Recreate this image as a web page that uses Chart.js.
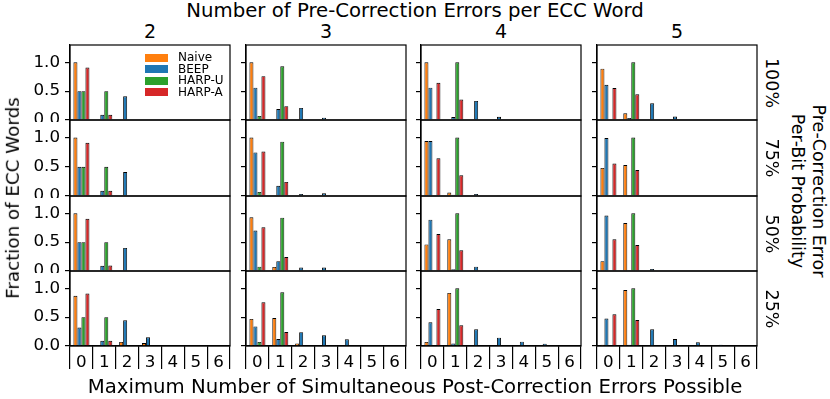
<!DOCTYPE html>
<html>
<head>
<meta charset="utf-8">
<script src="https://cdn.jsdelivr.net/npm/chart.js@4.4.1/dist/chart.umd.min.js"></script>
<style>
  html, body { margin: 0; padding: 0; background: #fff; }
  #fig { position: relative; width: 830px; height: 399px; overflow: hidden; background: #fff;
         font-family: 'DejaVu Sans', sans-serif; color: #000; }
  #fig canvas { position: absolute; }
  .txt { position: absolute; font-size: 18px; line-height: 1; white-space: nowrap; }
  .ctr { transform: translate(-50%, -50%); }
  .rot90 { transform: translate(-50%, -50%) rotate(90deg); text-align: center; }
  .rotm90 { transform: translate(-50%, -50%) rotate(-90deg); }
  #legend { position: absolute; left: 145px; top: 52px; font-size: 12px; line-height: 11.5px; }
  #legend .item { display: flex; align-items: center; height: 11.5px; }
  #legend .sw { width: 23px; height: 8px; margin-right: 10px; }
</style>
</head>
<body>
<div id="fig"></div>
<script>
// ---- data ----
const categories = ['0', '1', '2', '3', '4', '5', '6'];            // max simultaneous post-correction errors
const errorCounts = ['2', '3', '4', '5'];                           // columns: pre-correction errors per ECC word
const probabilities = ['100%', '75%', '50%', '25%'];                // rows: per-bit probability
const seriesNames = ['Naive', 'BEEP', 'HARP-U', 'HARP-A'];
const seriesColors = ['#ff7f0e', '#1f77b4', '#2ca02c', '#d62728'];
const yTickValues = [0, 0.5, 1.0];

// values[row][col] = fraction per category
const naive = [
  [[1.00,0,0,0,0,0,0], [1.00,0,0,0,0,0,0], [1.00,0,0,0,0,0,0], [0.89,0.115,0,0,0,0,0]],
  [[1.00,0,0,0,0,0,0], [1.00,0,0,0,0,0,0], [0.94,0.06,0,0,0,0,0], [0.48,0.53,0,0,0,0,0]],
  [[1.00,0,0,0,0,0,0], [0.93,0.07,0,0,0,0,0], [0.46,0.55,0,0,0,0,0], [0.17,0.83,0,0,0,0,0]],
  [[0.87,0.01,0.07,0.05,0,0,0], [0.47,0.485,0.045,0,0,0,0], [0.07,0.92,0.005,0,0,0,0], [0.02,0.97,0,0,0,0,0]]
];
const beep = [
  [[0.50,0.09,0.41,0,0,0,0], [0.56,0.19,0.21,0.04,0,0,0], [0.56,0.05,0.33,0.055,0,0,0], [0.61,0.035,0.29,0.06,0,0,0]],
  [[0.50,0.09,0.41,0,0,0,0], [0.745,0.175,0.035,0.045,0,0,0], [0.94,0.02,0.035,0.005,0,0,0], [0.99,0.003,0.005,0,0,0,0]],
  [[0.50,0.09,0.40,0.01,0,0,0], [0.70,0.17,0.06,0.06,0.01,0,0], [0.89,0.03,0.075,0.005,0,0,0], [0.96,0.003,0.035,0,0,0,0]],
  [[0.32,0.09,0.445,0.15,0,0,0], [0.34,0.12,0.24,0.185,0.115,0,0], [0.41,0.045,0.29,0.145,0.075,0.04,0], [0.475,0.02,0.29,0.12,0.064,0.02,0.005]]
];
const harpU = [
  [[0.50,0.50,0,0,0,0,0], [0.07,0.93,0,0,0,0,0], [0,1.00,0,0,0,0,0], [0,1.00,0,0,0,0,0]],
  [[0.50,0.50,0,0,0,0,0], [0.07,0.93,0,0,0,0,0], [0,1.00,0,0,0,0,0], [0,1.00,0,0,0,0,0]],
  [[0.50,0.50,0,0,0,0,0], [0.075,0.925,0,0,0,0,0], [0,1.00,0,0,0,0,0], [0,1.00,0,0,0,0,0]],
  [[0.50,0.50,0,0,0,0,0], [0.07,0.93,0,0,0,0,0], [0,1.00,0,0,0,0,0], [0,1.00,0,0,0,0,0]]
];
const harpA = [
  [[0.91,0.09,0,0,0,0,0], [0.76,0.24,0,0,0,0,0], [0.645,0.355,0,0,0,0,0], [0.555,0.445,0,0,0,0,0]],
  [[0.91,0.09,0,0,0,0,0], [0.76,0.24,0,0,0,0,0], [0.645,0.355,0,0,0,0,0], [0.555,0.445,0,0,0,0,0]],
  [[0.905,0.095,0,0,0,0,0], [0.757,0.243,0,0,0,0,0], [0.64,0.36,0,0,0,0,0], [0.55,0.45,0,0,0,0,0]],
  [[0.91,0.09,0,0,0,0,0], [0.757,0.243,0,0,0,0,0], [0.64,0.36,0,0,0,0,0], [0.55,0.45,0,0,0,0,0]]
];
const seriesValues = [naive, beep, harpU, harpA];

// ---- layout ----
const colLeft = [70, 246, 421, 597];
const plotW = 160;
const rowTop = [45, 120, 196, 271, 346];
const FONT = "'DejaVu Sans', sans-serif";
const TICK_FONT = 16.7;
Chart.defaults.font.family = FONT;
Chart.defaults.color = '#000';

const fig = document.getElementById('fig');

const framePlugin = {
  id: 'frame',
  afterDraw(chart) {
    const a = chart.chartArea, ctx = chart.ctx;
    ctx.save();
    ctx.strokeStyle = '#000';
    ctx.lineWidth = 1.2;
    ctx.strokeRect(a.left, a.top, a.right - a.left, a.bottom - a.top);
    ctx.restore();
  }
};

function noPad(scale) {
  scale.paddingTop = 0; scale.paddingBottom = 0;
  scale.paddingLeft = 0; scale.paddingRight = 0;
}

for (let r = 0; r < 4; r++) {
  for (let c = 0; c < 4; c++) {
    const L = c === 0 ? 48 : 10;
    const T = 2, R = 2;
    const plotH = rowTop[r + 1] - rowTop[r];
    const XH = 42;
    const B = r === 3 ? XH : 2;
    const cv = document.createElement('canvas');
    cv.width = L + plotW + R;
    cv.height = T + plotH + B;
    cv.style.left = (colLeft[c] - L) + 'px';
    cv.style.top = (rowTop[r] - T) + 'px';
    cv.style.width = cv.width + 'px';
    cv.style.height = cv.height + 'px';
    fig.appendChild(cv);

    const datasets = seriesNames.map((name, s) => ({
      label: name,
      data: seriesValues[s][r][c],
      backgroundColor: seriesColors[s],
      borderColor: '#000',
      borderWidth: 0.9,
      categoryPercentage: 0.7,
      barPercentage: 1.0
    }));

    new Chart(cv, {
      type: 'bar',
      data: { labels: categories, datasets },
      plugins: [framePlugin],
      options: {
        responsive: false,
        animation: false,
        devicePixelRatio: 1,
        layout: { padding: { left: 0, right: R, top: T, bottom: r === 3 ? 0 : B } },
        plugins: { legend: { display: false }, tooltip: { enabled: false } },
        scales: {
          x: {
            type: 'category',
            display: r === 3,
            offset: true,
            grid: { offset: true, drawOnChartArea: false, drawTicks: true, tickLength: 23, color: '#000', lineWidth: 1.2 },
            border: { display: true, color: '#000', width: 1.2 },
            ticks: { padding: -16.5, font: { size: TICK_FONT, family: FONT }, color: '#000', maxRotation: 0, minRotation: 0, autoSkip: false },
            afterFit: (scale) => { noPad(scale); scale.height = (r === 3) ? XH : 0; }
          },
          y: {
            type: 'linear',
            min: 0,
            max: 1.3,
            stacked: false,
            grid: { drawOnChartArea: false, drawTicks: true, tickLength: 5, color: '#000', lineWidth: 1.2 },
            border: { display: true, color: '#000', width: 1.2 },
            ticks: {
              display: c === 0,
              padding: 5,
              font: { size: TICK_FONT, family: FONT },
              color: '#000',
              callback: (v) => Number(v).toFixed(1)
            },
            afterBuildTicks: (scale) => { scale.ticks = yTickValues.map(v => ({ value: v })); },
            afterFit: (scale) => { noPad(scale); scale.width = L; }
          }
        }
      }
    });
  }
}

// ---- text ----
function addText(html, x, y, cls, size, extra) {
  const d = document.createElement('div');
  d.className = 'txt ' + cls;
  d.style.left = x + 'px';
  d.style.top = y + 'px';
  d.style.fontSize = size + 'px';
  d.innerHTML = html;
  if (extra) Object.assign(d.style, extra);
  fig.appendChild(d);
  return d;
}
const figCenterX = 415;
addText('Number of Pre-Correction Errors per ECC Word', figCenterX, 11, 'ctr', 19.7);
errorCounts.forEach((t, c) => addText(t, colLeft[c] + plotW / 2, 31, 'ctr', 19));
addText('Maximum Number of Simultaneous Post-Correction Errors Possible', figCenterX, 387, 'ctr', 19.7);
addText('Fraction of ECC Words', 13, 198, 'rotm90', 18.3);
probabilities.forEach((t, r) => addText(t, 771, (rowTop[r] + rowTop[r + 1]) / 2, 'rot90', 17.5));
addText('Pre-Correction Error<br>Per-Bit Probability', 808, 191, 'rot90', 17.5, { lineHeight: '21px' });

// legend built from the series arrays
const lg = document.createElement('div');
lg.id = 'legend';
seriesNames.forEach((n, s) => {
  const it = document.createElement('div');
  it.className = 'item';
  const sw = document.createElement('span');
  sw.className = 'sw';
  sw.style.background = seriesColors[s];
  const tx = document.createElement('span');
  tx.textContent = n;
  it.appendChild(sw); it.appendChild(tx);
  lg.appendChild(it);
});
fig.appendChild(lg);
</script>
</body>
</html>
